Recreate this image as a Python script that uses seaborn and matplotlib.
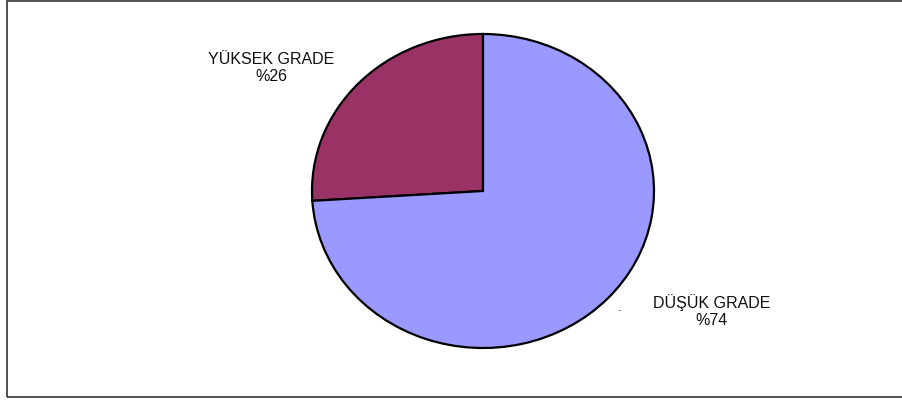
import matplotlib
matplotlib.use("Agg")
import matplotlib.pyplot as plt
import seaborn as sns
from matplotlib.patches import Rectangle

categories = ["YÜKSEK GRADE", "DÜŞÜK GRADE"]
values = [26, 74]
pct_labels = ["%26", "%74"]
colors = ["#993366", "#9999FF"]

sns.set_theme(style="white")
plt.rcParams['font.family'] = ['Liberation Sans', 'DejaVu Sans']

W, H = 903, 403
fig = plt.figure(figsize=(W / 100, H / 100), dpi=100)
fig.patch.set_facecolor("white")

# outer frame
fig.add_artist(Rectangle((7 / W, (H - 397) / H), (W + 20 - 7) / W, (397 - 1) / H,
                         transform=fig.transFigure, fill=False,
                         edgecolor="#333333", linewidth=1.2))

# pie axes (elliptical)
ax = fig.add_axes([312 / W, (H - 348) / H, 342 / W, 314 / H])
ax.pie(values, colors=colors, startangle=90, counterclock=True,
       wedgeprops=dict(edgecolor="black", linewidth=1.6))
ax.set_aspect("auto")
ax.set_xlim(-1, 1)
ax.set_ylim(-1, 1)
ax.axis("off")

# labels
fig.text(271 / W, 1 - 68 / H, f"{categories[0]}\n{pct_labels[0]}", ha="center",
         va="center", fontsize=11.5, color="#111111", linespacing=1.2)
fig.text(712 / W, 1 - 311 / H, f"{categories[1]}\n{pct_labels[1]}", ha="center",
         va="center", fontsize=11.5, color="#111111", linespacing=1.2)
fig.text(620 / W, 1 - 308 / H, ".", ha="center", va="center", fontsize=9, color="black")

fig.savefig("out.png", dpi=100, facecolor="white")
